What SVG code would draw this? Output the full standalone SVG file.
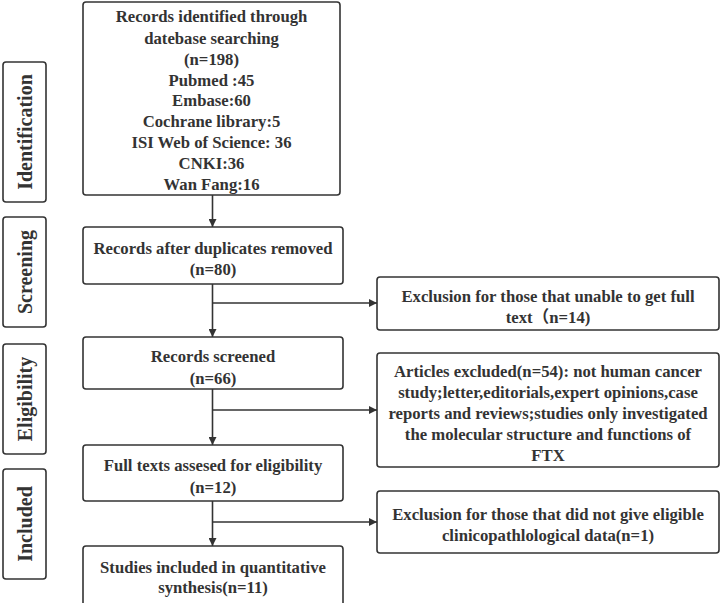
<svg xmlns="http://www.w3.org/2000/svg" width="720" height="603" viewBox="0 0 720 603">
<defs>
<marker id="ah" viewBox="0 0 10 10" refX="10" refY="5" markerWidth="10" markerHeight="8" markerUnits="userSpaceOnUse" orient="auto">
<path d="M0,0 L10,5 L0,10 Z" fill="#333"/>
</marker>
<style>
.box{fill:#fff;stroke:#333;stroke-width:1.6}
.t{font-family:"Liberation Serif","Noto Sans CJK SC",serif;font-weight:bold;font-size:16.7px;fill:#333;text-anchor:middle}
.s{font-family:"Liberation Serif",serif;font-weight:bold;font-size:20px;fill:#333;text-anchor:middle}
.c{fill:none;stroke:#333;stroke-width:1.6}
</style>
</defs>
<rect width="720" height="603" fill="#fff"/>
<g id="phase-identification"><rect class="box" x="3" y="62" width="43" height="140" rx="3"/><text class="s" transform="translate(32,132) rotate(-90)">Identification</text></g>
<g id="phase-screening"><rect class="box" x="3" y="217" width="43" height="110" rx="3"/><text class="s" transform="translate(32,272) rotate(-90)">Screening</text></g>
<g id="phase-eligibility"><rect class="box" x="3" y="344" width="43" height="110" rx="3"/><text class="s" transform="translate(32,399) rotate(-90)">Eligibility</text></g>
<g id="phase-included"><rect class="box" x="3" y="469" width="43" height="110" rx="3"/><text class="s" transform="translate(32,524) rotate(-90)">Included</text></g>

<g id="identified"><rect class="box" x="83" y="2" width="257" height="193" rx="3"/>
<text class="t" x="211.5" y="22">Records identified through</text>
<text class="t" x="211.5" y="43.5">datebase searching</text>
<text class="t" x="211.5" y="65">(n=198)</text>
<text class="t" x="211.5" y="85.5">Pubmed :45</text>
<text class="t" x="211.5" y="106">Embase:60</text>
<text class="t" x="211.5" y="127">Cochrane library:5</text>
<text class="t" x="211.5" y="148">ISI Web of Science: 36</text>
<text class="t" x="211.5" y="169">CNKI:36</text>
<text class="t" x="211.5" y="189.5">Wan Fang:16</text>
</g>
<g id="dedup"><rect class="box" x="83" y="227" width="260" height="57" rx="3"/>
<text class="t" x="213" y="253.5">Records after duplicates removed</text>
<text class="t" x="213" y="274.5">(n=80)</text></g>
<g id="screened"><rect class="box" x="83" y="337" width="260" height="52" rx="3"/>
<text class="t" x="213" y="361.5">Records screened</text>
<text class="t" x="213" y="383.5">(n=66)</text></g>
<g id="fulltext"><rect class="box" x="83" y="445" width="260" height="56" rx="3"/>
<text class="t" x="213" y="470.5">Full texts assesed for eligibility</text>
<text class="t" x="213" y="492.5">(n=12)</text></g>
<g id="included"><rect class="box" x="83" y="546" width="260" height="60" rx="3"/>
<text class="t" x="213" y="572.5">Studies included in quantitative</text>
<text class="t" x="213" y="592.5">synthesis(n=11)</text></g>

<g id="excl1"><rect class="box" x="377" y="277" width="342" height="53" rx="3"/>
<text class="t" x="548" y="301.5">Exclusion for those that unable to get full</text>
<text class="t" x="548" y="322.5">text（n=14)</text></g>
<g id="excl2"><rect class="box" x="377" y="353" width="342" height="114" rx="3"/>
<text class="t" x="548" y="376.5">Articles excluded(n=54): not human cancer</text>
<text class="t" x="548" y="397.5">study;letter,editorials,expert opinions,case</text>
<text class="t" x="548" y="418.5">reports and reviews;studies only investigated</text>
<text class="t" x="548" y="439.5">the molecular structure and functions of</text>
<text class="t" x="548" y="460.5">FTX</text></g>
<g id="excl3"><rect class="box" x="377" y="491" width="342" height="62" rx="3"/>
<text class="t" x="548" y="519.5">Exclusion for those that did not give eligible</text>
<text class="t" x="548" y="540.5">clinicopathlological data(n=1)</text></g>

<g id="connectors">
<line class="c" x1="212.5" y1="195" x2="212.5" y2="227" marker-end="url(#ah)"/>
<line class="c" x1="212.5" y1="284" x2="212.5" y2="337" marker-end="url(#ah)"/>
<line class="c" x1="212.5" y1="389" x2="212.5" y2="445" marker-end="url(#ah)"/>
<line class="c" x1="212.5" y1="501" x2="212.5" y2="546" marker-end="url(#ah)"/>
<line class="c" x1="212.5" y1="303" x2="377" y2="303" marker-end="url(#ah)"/>
<line class="c" x1="212.5" y1="410" x2="377" y2="410" marker-end="url(#ah)"/>
<line class="c" x1="212.5" y1="522" x2="377" y2="522" marker-end="url(#ah)"/>
</g>
</svg>
